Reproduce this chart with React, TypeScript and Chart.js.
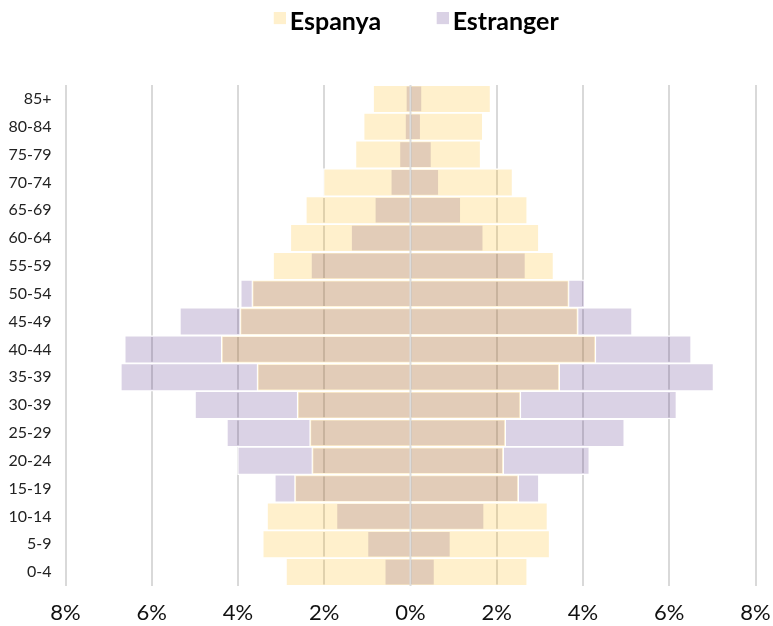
import React, { useEffect, useRef } from 'react';
import { Chart, registerables } from 'chart.js';

Chart.register(...registerables);

// Age groups, top to bottom
const ageGroups = ['85+', '80-84', '75-79', '70-74', '65-69', '60-64', '55-59', '50-54', '45-49', '40-44', '35-39', '30-39', '25-29', '20-24', '15-19', '10-14', '5-9', '0-4'];

// Percentages (left side of pyramid)
const espanyaLeft = [0.87, 1.09, 1.28, 2.02, 2.43, 2.79, 3.19, 3.68, 3.96, 4.39, 3.56, 2.63, 2.34, 2.29, 2.69, 3.33, 3.43, 2.89];
const estrangerLeft = [0.11, 0.13, 0.26, 0.46, 0.83, 1.38, 2.31, 3.94, 5.35, 6.63, 6.72, 5.0, 4.26, 4.01, 3.15, 1.72, 1.0, 0.6];
// Percentages (right side of pyramid)
const espanyaRight = [1.86, 1.68, 1.63, 2.37, 2.71, 2.98, 3.32, 3.68, 3.89, 4.3, 3.46, 2.56, 2.21, 2.16, 2.51, 3.18, 3.23, 2.71];
const estrangerRight = [0.27, 0.24, 0.49, 0.66, 1.17, 1.69, 2.67, 4.04, 5.14, 6.51, 7.03, 6.17, 4.96, 4.15, 2.98, 1.71, 0.93, 0.56];

const seriesNames = ['Espanya', 'Estranger'];
const seriesColors = ['rgba(255,180,0,0.2)', 'rgba(70,30,125,0.2)'];
const xMin = -8;
const xMax = 8;
const xStep = 2;

const LEGEND_H = 85;
const LEGEND_PAD = 52;
const LEGEND_DX = 24;
const LEGEND_DY = -42.9;

const legendTweak = {
  id: 'legendTweak',
  beforeInit(chart: any) {
    const lg = chart.legend;
    if (!lg) return;
    const fit = lg.fit;
    lg.fit = function () {
      fit.call(this);
      this.height = LEGEND_H;
    };
    const draw = lg.draw;
    lg.draw = function () {
      const l = this.left, r = this.right, t = this.top;
      this.left += LEGEND_DX;
      this.right += LEGEND_DX;
      this.top += LEGEND_DY;
      draw.call(this);
      this.left = l;
      this.right = r;
      this.top = t;
    };
  },
};

const zeroLine = {
  id: 'zeroLine',
  afterDatasetsDraw(chart: any) {
    const { ctx, chartArea, scales } = chart;
    const px = scales.x.getPixelForValue(0);
    ctx.save();
    ctx.strokeStyle = '#dcdcdc';
    ctx.lineWidth = 2;
    ctx.beginPath();
    ctx.moveTo(px, chartArea.top);
    ctx.lineTo(px, chartArea.bottom);
    ctx.stroke();
    ctx.restore();
  },
};

function makeLegendBox(color: string) {
  const c = document.createElement('canvas');
  c.width = 24;
  c.height = 19;
  const g = c.getContext('2d');
  if (g) {
    g.fillStyle = color;
    g.fillRect(12, 0, 12, 12);
  }
  return c;
}

export default function App() {
  const ref = useRef<HTMLCanvasElement | null>(null);

  useEffect(() => {
    if (!ref.current) return;
    const legendImgs = seriesColors.map(makeLegendBox);
    const mkDataset = (idx: number, left: number[], right: number[]) => ({
      label: seriesNames[idx],
      data: ageGroups.map((_, i) => [-left[i], right[i]]) as any,
      backgroundColor: seriesColors[idx],
      borderColor: '#ffffff',
      borderWidth: 1.25,
      borderSkipped: false,
      barPercentage: 1,
      categoryPercentage: 1,
      grouped: false,
    });
    const chart = new Chart(ref.current, {
      type: 'bar',
      data: {
        labels: ageGroups,
        datasets: [
          mkDataset(0, espanyaLeft, espanyaRight),
          mkDataset(1, estrangerLeft, estrangerRight),
        ],
      },
      options: {
        indexAxis: 'y',
        animation: false,
        responsive: false,
        layout: { padding: { left: 8, right: 0, top: 0, bottom: 0 } },
        plugins: {
          legend: {
            position: 'top',
            labels: {
              font: { family: 'Lato', size: 25, weight: 'bold' },
              color: '#000',
              usePointStyle: true,
              pointStyleWidth: 7,
              boxHeight: 12,
              padding: LEGEND_PAD,
              generateLabels: (ch: any) => {
                const items = (Chart as any).defaults.plugins.legend.labels.generateLabels(ch);
                items.forEach((it: any, i: number) => {
                  it.pointStyle = legendImgs[i];
                });
                return items;
              },
            },
          },
          tooltip: { enabled: false },
        },
        scales: {
          x: {
            type: 'linear',
            min: xMin,
            max: xMax,
            ticks: {
              stepSize: xStep,
              callback: (v: any) => Math.abs(Number(v)) + '%',
              font: { family: 'Lato', size: 22 },
              color: '#111',
              padding: 14,
            },
            grid: { color: '#d9d9d9', lineWidth: 2, drawTicks: false },
            border: { display: false },
            afterFit: (s: any) => {
              s.height = 40;
              s.paddingRight = 17.5;
              s.paddingLeft = 17.5;
            },
          },
          y: {
            ticks: {
              font: { family: 'Lato', size: 16 },
              color: '#222',
              padding: 14,
            },
            grid: { display: false, drawTicks: false },
            border: { display: false },
            afterFit: (s: any) => {
              s.width = 57.5;
            },
          },
        },
      },
      plugins: [legendTweak, zeroLine],
    } as any);
    return () => chart.destroy();
  }, []);

  return (
    <div style={{ position: 'fixed', left: 0, top: 0, width: 773, height: 626, background: '#fff' }}>
      <canvas ref={ref} width={773} height={626} style={{ display: 'block', width: 773, height: 626 }} />
    </div>
  );
}
